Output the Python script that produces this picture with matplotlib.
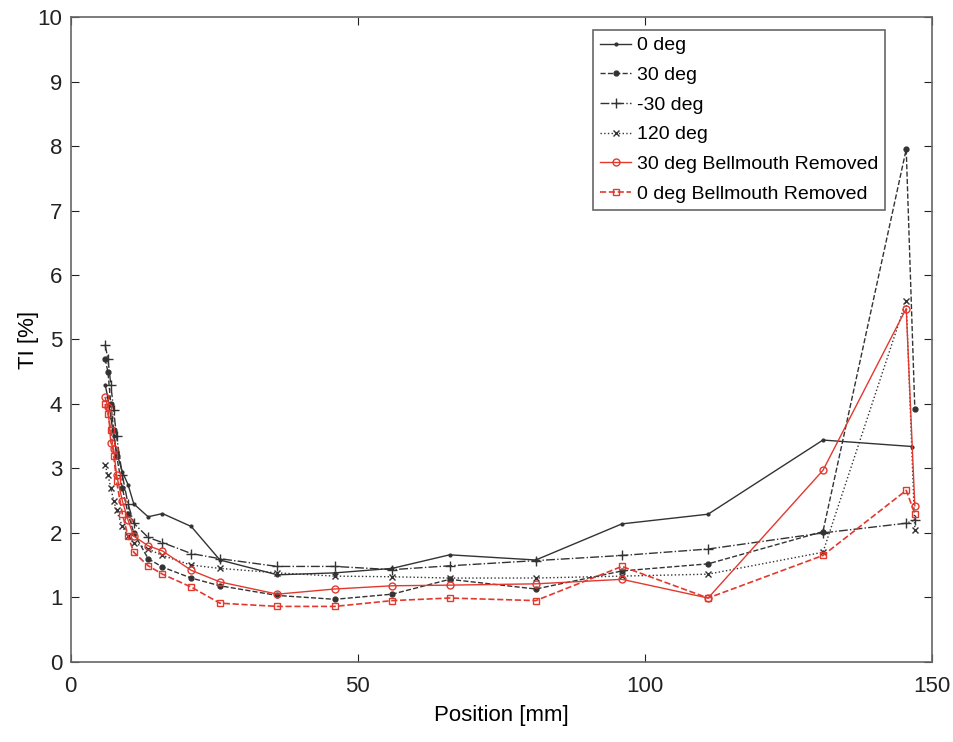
import matplotlib
matplotlib.use("Agg")
import matplotlib.pyplot as plt

plt.rcParams.update({"font.family": ["Liberation Sans", "DejaVu Sans"], "font.size": 15})

# positions [mm]
x_near = [6.0, 6.5, 7.0, 7.5, 8.0, 9.0, 10.0, 11.0]
x_far = [13.5, 16, 21, 26, 36, 46, 56, 66, 81, 96, 111, 131]

x_0deg = x_near + x_far + [146.5]
ti_0deg = [4.3, 4.1, 3.8, 3.5, 3.25, 2.95, 2.75, 2.45,
           2.25, 2.3, 2.1, 1.58, 1.35, 1.38, 1.45, 1.66, 1.58, 2.14, 2.29, 3.44, 3.34]

x_rest = x_near + x_far + [145.5, 147]
ti_30deg = [4.7, 4.5, 4.0, 3.6, 3.2, 2.7, 2.3, 2.0,
            1.6, 1.47, 1.3, 1.18, 1.03, 0.97, 1.05, 1.28, 1.13, 1.41, 1.52, 2.02, 7.95, 3.92]
ti_m30deg = [4.92, 4.7, 4.3, 3.9, 3.5, 2.9, 2.45, 2.15,
             1.93, 1.85, 1.68, 1.6, 1.48, 1.48, 1.43, 1.49, 1.57, 1.65, 1.75, 2.0, 2.15, 2.2]
ti_120deg = [3.05, 2.9, 2.7, 2.5, 2.35, 2.1, 1.95, 1.85,
             1.75, 1.65, 1.5, 1.45, 1.38, 1.33, 1.32, 1.3, 1.3, 1.33, 1.36, 1.7, 5.6, 2.05]
ti_30br = [4.1, 3.95, 3.4, 3.3, 2.9, 2.5, 2.2, 1.95,
           1.8, 1.72, 1.42, 1.24, 1.05, 1.13, 1.18, 1.19, 1.21, 1.28, 0.99, 2.97, 5.48, 2.42]
ti_0br = [4.0, 3.85, 3.6, 3.2, 2.8, 2.3, 1.95, 1.7,
          1.49, 1.36, 1.16, 0.91, 0.86, 0.86, 0.95, 0.99, 0.95, 1.48, 0.99, 1.65, 2.66, 2.3]

K = "#333333"
R = "#e2392e"

fig = plt.figure(figsize=(9.54, 7.42), dpi=100)
ax = fig.add_axes([0.074, 0.108, 0.903, 0.869])

ax.plot(x_0deg, ti_0deg, "-", color=K, lw=1, marker=".", ms=4, label="0 deg")
ax.plot(x_rest, ti_30deg, "--", color=K, lw=1, marker="o", ms=3.5, label="30 deg")
ax.plot(x_rest, ti_m30deg, "-.", color=K, lw=1, marker="+", ms=7, label="-30 deg")
ax.plot(x_rest, ti_120deg, ":", color=K, lw=1, marker="x", ms=4, label="120 deg")
ax.plot(x_rest, ti_30br, "-", color=R, lw=1, marker="o", ms=5, mfc="none",
        label="30 deg Bellmouth Removed")
ax.plot(x_rest, ti_0br, "--", color=R, lw=1.2, marker="s", ms=5, mfc="none",
        label="0 deg Bellmouth Removed")

ax.set_xlim(0, 150)
ax.set_ylim(0, 10)
ax.set_xticks([0, 50, 100, 150])
ax.set_yticks(range(0, 11))
ax.tick_params(direction="in", top=True, right=True, length=6, colors="#222222",
               labelsize=16)
ax.tick_params(axis="x", pad=10)
ax.tick_params(axis="y", pad=6)
for s in ax.spines.values():
    s.set_color("#666666")
    s.set_linewidth(1.2)
ax.set_xlabel("Position [mm]", fontsize=16, labelpad=6)
ax.set_ylabel("TI [%]", fontsize=16, labelpad=-1)

leg = ax.legend(loc="upper right", bbox_to_anchor=(0.9455, 0.98), borderaxespad=0,
                fancybox=False, edgecolor="#666666", framealpha=1, fontsize=14,
                handlelength=1.6, labelspacing=0.62, handletextpad=0.3,
                borderpad=0.35)
leg.get_frame().set_linewidth(1.2)

fig.savefig("out.png", dpi=100)
